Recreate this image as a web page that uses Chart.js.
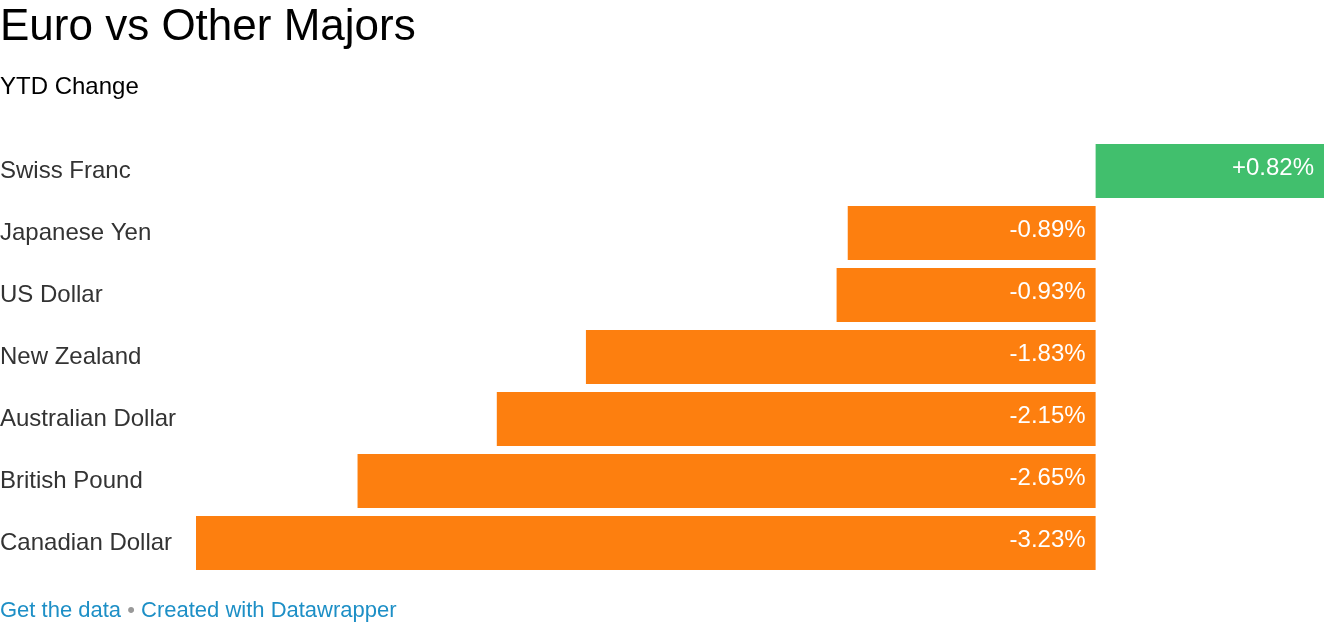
<!DOCTYPE html>
<html>
<head>
<meta charset="utf-8">
<script src="https://cdn.jsdelivr.net/npm/chart.js@4/dist/chart.umd.min.js"></script>
<style>
  html, body { margin: 0; padding: 0; background: #fff; width: 1324px; height: 622px; overflow: hidden; font-family: "Liberation Sans", Arial, sans-serif; }
  #title { position: absolute; left: 0; top: 0; font-size: 44px; line-height: 50px; color: #000; white-space: nowrap; }
  #subtitle { position: absolute; left: 0; top: 71px; font-size: 24px; line-height: 30px; color: #000; white-space: nowrap; }
  #footer { position: absolute; left: 0; top: 596px; font-size: 22px; line-height: 28px; white-space: nowrap; color: #1d8fc6; }
  #footer .dot { color: #999; }
  #wrap { position: absolute; left: 0; top: 0; width: 1324px; height: 622px; }
</style>
</head>
<body>
<div id="wrap"><canvas id="c" width="1324" height="622"></canvas></div>
<div id="title">Euro vs Other Majors</div>
<div id="subtitle">YTD Change</div>
<div id="footer">Get the data <span class="dot">•</span> Created with Datawrapper</div>
<script>
const categories = ["Swiss Franc", "Japanese Yen", "US Dollar", "New Zealand", "Australian Dollar", "British Pound", "Canadian Dollar"];
const values = [0.82, -0.89, -0.93, -1.83, -2.15, -2.65, -3.23];
const valueLabels = ["+0.82%", "-0.89%", "-0.93%", "-1.83%", "-2.15%", "-2.65%", "-3.23%"];

const POS = "#41bf6d", NEG = "#fd7f0f";

const valueLabelPlugin = {
  id: "valueLabels",
  afterDatasetsDraw(chart) {
    const ctx = chart.ctx;
    const meta = chart.getDatasetMeta(0);
    ctx.save();
    ctx.font = '24px "Liberation Sans", Arial, sans-serif';
    ctx.fillStyle = "#ffffff";
    ctx.textAlign = "right";
    ctx.textBaseline = "middle";
    meta.data.forEach((bar, i) => {
      const right = Math.max(bar.x, bar.base);
      ctx.fillText(valueLabels[i], right - 10, bar.y - 3);
    });
    ctx.restore();
  }
};

new Chart(document.getElementById("c"), {
  type: "bar",
  data: {
    labels: categories,
    datasets: [{
      data: values,
      backgroundColor: values.map(v => v >= 0 ? POS : NEG),
      borderWidth: 0,
      barPercentage: 54 / 62,
      categoryPercentage: 1.0
    }]
  },
  options: {
    indexAxis: "y",
    responsive: false,
    animation: false,
    events: [],
    layout: { padding: { top: 140, bottom: 48, left: 0, right: 0 } },
    plugins: { legend: { display: false }, tooltip: { enabled: false }, title: { display: false } },
    scales: {
      x: { display: false, min: -3.23, max: 0.82 },
      y: {
        grid: { display: false, drawBorder: false },
        border: { display: false },
        ticks: {
          crossAlign: "far",
          padding: 0,
          color: "#333333",
          font: { family: '"Liberation Sans", Arial, sans-serif', size: 24 }
        },
        afterFit(scale) { scale.width = 196; }
      }
    }
  },
  plugins: [valueLabelPlugin]
});
</script>
</body>
</html>
